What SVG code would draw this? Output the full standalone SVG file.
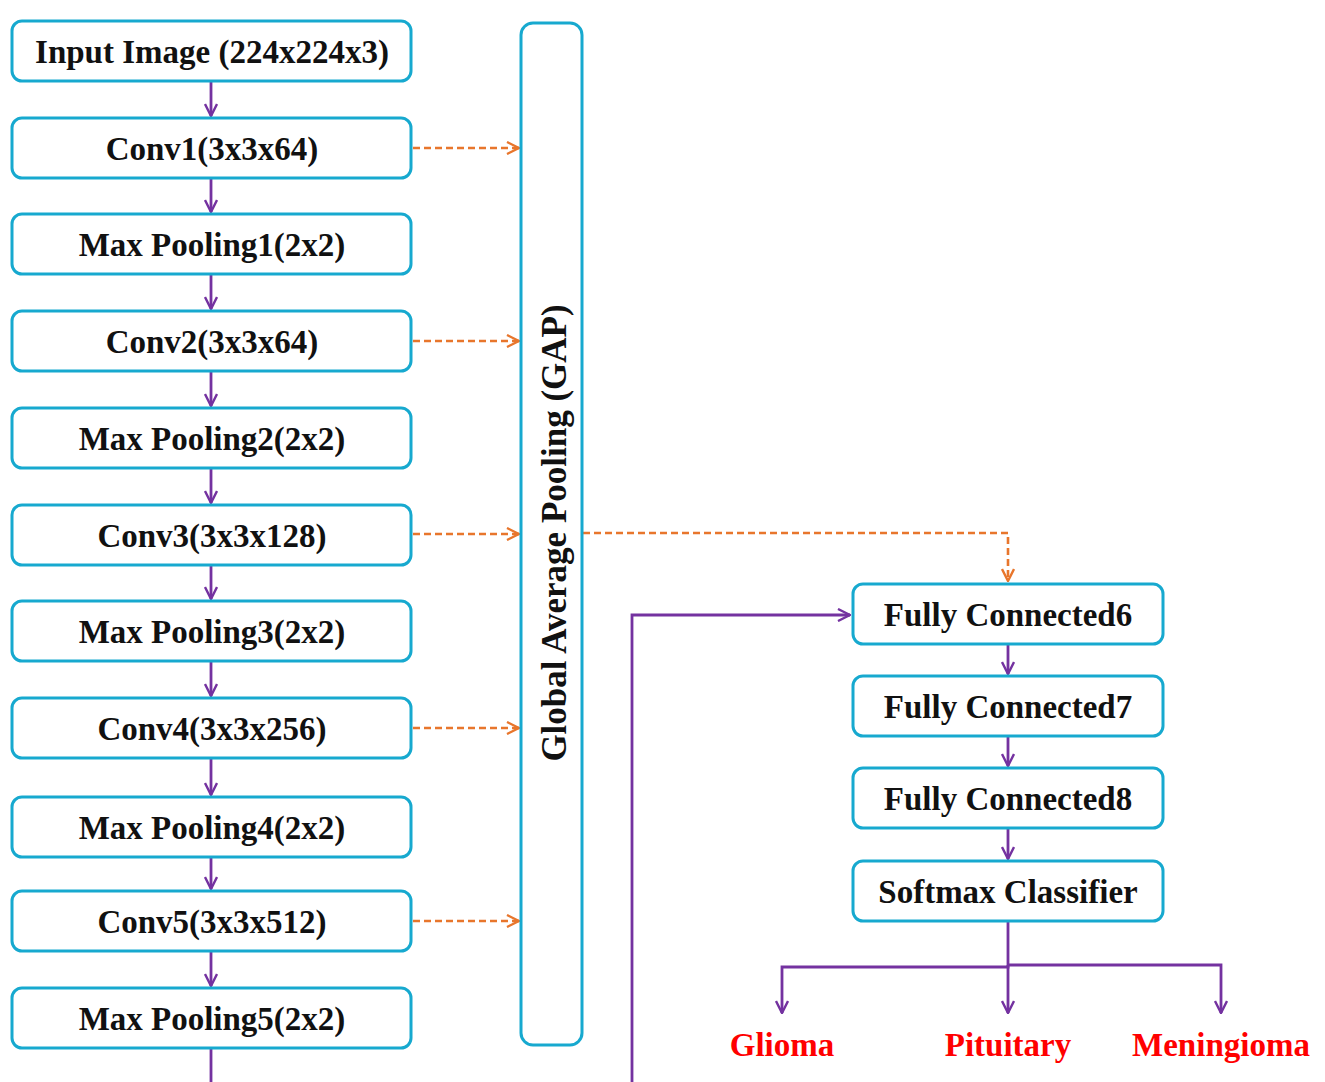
<svg xmlns="http://www.w3.org/2000/svg" width="1325" height="1082" viewBox="0 0 1325 1082">
<defs>
<style>
.box{fill:#fff;stroke:#17a9cf;stroke-width:3}
.t{font-family:"Liberation Serif","Times New Roman",serif;font-weight:bold;font-size:33px;fill:#111;text-anchor:middle}
.g{font-family:"Liberation Serif","Times New Roman",serif;font-weight:bold;font-size:35px;fill:#111;text-anchor:middle}
.r{font-family:"Liberation Serif","Times New Roman",serif;font-weight:bold;font-size:33px;fill:#ff0000;text-anchor:middle}
.p{fill:none;stroke:#7432a0;stroke-width:2.8}
.d{fill:none;stroke:#e8762c;stroke-width:2.6;stroke-dasharray:7 4}
</style>
<marker id="ap" viewBox="0 0 14 14" refX="13" refY="7" markerWidth="14" markerHeight="14" markerUnits="userSpaceOnUse" orient="auto"><path d="M1,1 L13,7 L1,13" fill="none" stroke="#7432a0" stroke-width="2.4"/></marker>
<marker id="ao" viewBox="0 0 14 14" refX="13" refY="7" markerWidth="14" markerHeight="14" markerUnits="userSpaceOnUse" orient="auto"><path d="M1,1 L13,7 L1,13" fill="none" stroke="#e8762c" stroke-width="2.4"/></marker>
</defs>
<rect width="1325" height="1082" fill="#fff"/>
<g id="connectors">
<line class="p" x1="211" y1="82" x2="211" y2="116" marker-end="url(#ap)"/>
<line class="p" x1="211" y1="179" x2="211" y2="212" marker-end="url(#ap)"/>
<line class="p" x1="211" y1="275" x2="211" y2="309" marker-end="url(#ap)"/>
<line class="p" x1="211" y1="372" x2="211" y2="406" marker-end="url(#ap)"/>
<line class="p" x1="211" y1="469" x2="211" y2="503" marker-end="url(#ap)"/>
<line class="p" x1="211" y1="566" x2="211" y2="599" marker-end="url(#ap)"/>
<line class="p" x1="211" y1="662" x2="211" y2="696" marker-end="url(#ap)"/>
<line class="p" x1="211" y1="759" x2="211" y2="795" marker-end="url(#ap)"/>
<line class="p" x1="211" y1="858" x2="211" y2="889" marker-end="url(#ap)"/>
<line class="p" x1="211" y1="952" x2="211" y2="986" marker-end="url(#ap)"/>
<path class="p" d="M211,1049 V1086 H632 V615 H850" marker-end="url(#ap)"/>
<line class="d" x1="413" y1="148" x2="519" y2="148" marker-end="url(#ao)"/>
<line class="d" x1="413" y1="341" x2="519" y2="341" marker-end="url(#ao)"/>
<line class="d" x1="413" y1="534" x2="519" y2="534" marker-end="url(#ao)"/>
<line class="d" x1="413" y1="728" x2="519" y2="728" marker-end="url(#ao)"/>
<line class="d" x1="413" y1="921" x2="519" y2="921" marker-end="url(#ao)"/>
<path class="d" d="M583,533 H1008 V581" marker-end="url(#ao)"/>
<line class="p" x1="1008" y1="645" x2="1008" y2="674" marker-end="url(#ap)"/>
<line class="p" x1="1008" y1="737" x2="1008" y2="766" marker-end="url(#ap)"/>
<line class="p" x1="1008" y1="829" x2="1008" y2="859" marker-end="url(#ap)"/>
<path class="p" d="M1008,922 V967 H782 V1013" marker-end="url(#ap)"/>
<line class="p" x1="1008" y1="965" x2="1008" y2="1013" marker-end="url(#ap)"/>
<path class="p" d="M1008,965 H1221 V1013" marker-end="url(#ap)"/>
</g>
<g id="input"><rect class="box" x="12" y="21" width="399" height="60" rx="10"/><text class="t" x="212" y="63">Input Image (224x224x3)</text></g>
<g id="conv1"><rect class="box" x="12" y="118" width="399" height="60" rx="10"/><text class="t" x="212" y="160">Conv1(3x3x64)</text></g>
<g id="pool1"><rect class="box" x="12" y="214" width="399" height="60" rx="10"/><text class="t" x="212" y="256">Max Pooling1(2x2)</text></g>
<g id="conv2"><rect class="box" x="12" y="311" width="399" height="60" rx="10"/><text class="t" x="212" y="353">Conv2(3x3x64)</text></g>
<g id="pool2"><rect class="box" x="12" y="408" width="399" height="60" rx="10"/><text class="t" x="212" y="450">Max Pooling2(2x2)</text></g>
<g id="conv3"><rect class="box" x="12" y="505" width="399" height="60" rx="10"/><text class="t" x="212" y="547">Conv3(3x3x128)</text></g>
<g id="pool3"><rect class="box" x="12" y="601" width="399" height="60" rx="10"/><text class="t" x="212" y="643">Max Pooling3(2x2)</text></g>
<g id="conv4"><rect class="box" x="12" y="698" width="399" height="60" rx="10"/><text class="t" x="212" y="740">Conv4(3x3x256)</text></g>
<g id="pool4"><rect class="box" x="12" y="797" width="399" height="60" rx="10"/><text class="t" x="212" y="839">Max Pooling4(2x2)</text></g>
<g id="conv5"><rect class="box" x="12" y="891" width="399" height="60" rx="10"/><text class="t" x="212" y="933">Conv5(3x3x512)</text></g>
<g id="pool5"><rect class="box" x="12" y="988" width="399" height="60" rx="10"/><text class="t" x="212" y="1030">Max Pooling5(2x2)</text></g>
<g id="gap"><rect class="box" x="521" y="23" width="61" height="1022" rx="12"/><text class="g" transform="translate(566,533) rotate(-90)">Global Average Pooling (GAP)</text></g>
<g id="fc6"><rect class="box" x="853" y="584" width="310" height="60" rx="10"/><text class="t" x="1008" y="626">Fully Connected6</text></g>
<g id="fc7"><rect class="box" x="853" y="676" width="310" height="60" rx="10"/><text class="t" x="1008" y="718">Fully Connected7</text></g>
<g id="fc8"><rect class="box" x="853" y="768" width="310" height="60" rx="10"/><text class="t" x="1008" y="810">Fully Connected8</text></g>
<g id="softmax"><rect class="box" x="853" y="861" width="310" height="60" rx="10"/><text class="t" x="1008" y="903">Softmax  Classifier</text></g>
<g id="glioma"><text class="r" x="782" y="1056">Glioma</text></g>
<g id="pituitary"><text class="r" x="1008" y="1056">Pituitary</text></g>
<g id="meningioma"><text class="r" x="1221" y="1056">Meningioma</text></g>
</svg>
